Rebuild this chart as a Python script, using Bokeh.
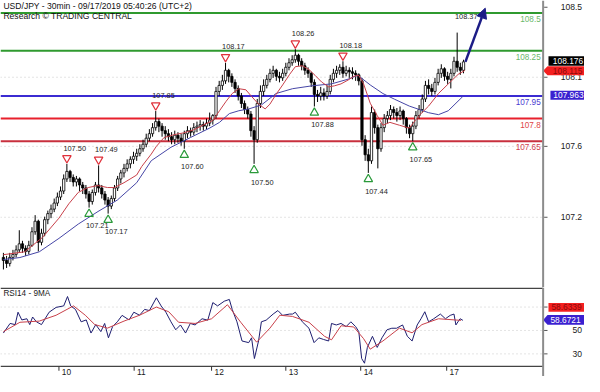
import numpy as np
from bokeh.plotting import figure
from bokeh.layouts import column
from bokeh.models import Range1d, Arrow, NormalHead, Span
from bokeh.core.properties import value
from bokeh.embed import file_html
from bokeh.resources import INLINE

# ---------------- data ----------------
opens = [106.88, 106.86, 106.84, 106.88, 106.90, 106.93, 106.97, 106.94, 106.92, 106.96,
         107.05, 107.12, 106.98, 107.04, 107.13, 107.17, 107.20, 107.24, 107.28, 107.32,
         107.40, 107.45, 107.41, 107.38, 107.40, 107.36, 107.34, 107.30, 107.25, 107.31,
         107.36, 107.34, 107.30, 107.26, 107.22, 107.27, 107.34, 107.40, 107.44, 107.47,
         107.50, 107.53, 107.55, 107.57, 107.60, 107.63, 107.67, 107.70, 107.74, 107.78,
         107.75, 107.72, 107.70, 107.68, 107.66, 107.69, 107.67, 107.65, 107.70, 107.72,
         107.71, 107.74, 107.75, 107.76, 107.75, 107.77, 107.79, 107.82, 107.98, 108.02,
         108.05, 108.12, 108.08, 108.04, 108.00, 107.95, 107.90, 107.86, 107.83, 107.72,
         107.66, 107.90, 107.98, 108.02, 108.06, 108.10, 108.12, 108.08, 108.07, 108.10,
         108.14, 108.17, 108.19, 108.22, 108.18, 108.15, 108.12, 108.10, 108.04, 107.96,
         107.95, 107.97, 107.95, 107.98, 108.06, 108.10, 108.12, 108.14, 108.10, 108.12,
         108.11, 108.10, 108.09, 108.05, 107.66, 107.56, 107.52, 107.84, 107.74, 107.60,
         107.74, 107.80, 107.82, 107.86, 107.84, 107.82, 107.85, 107.80, 107.74, 107.70,
         107.75, 107.82, 107.86, 107.93, 108.02, 108.00, 107.98, 108.04, 108.10, 108.13,
         108.08, 108.06, 108.10, 108.18, 108.14, 108.12]
highs = [106.91, 106.89, 106.91, 106.93, 106.96, 107.06, 106.99, 106.96, 106.99, 107.08,
         107.16, 107.13, 107.07, 107.15, 107.19, 107.23, 107.27, 107.31, 107.35, 107.43,
         107.50, 107.46, 107.43, 107.42, 107.41, 107.38, 107.36, 107.32, 107.33, 107.38,
         107.49, 107.36, 107.32, 107.28, 107.29, 107.36, 107.42, 107.46, 107.50, 107.53,
         107.55, 107.58, 107.60, 107.63, 107.66, 107.70, 107.73, 107.77, 107.85, 107.80,
         107.77, 107.75, 107.73, 107.71, 107.72, 107.71, 107.70, 107.72, 107.75, 107.74,
         107.77, 107.78, 107.79, 107.78, 107.80, 107.84, 107.83, 108.01, 108.05, 108.09,
         108.17, 108.13, 108.10, 108.06, 108.02, 107.97, 107.92, 107.88, 107.85, 107.75,
         107.93, 108.02, 108.06, 108.09, 108.13, 108.15, 108.13, 108.11, 108.13, 108.17,
         108.20, 108.22, 108.26, 108.23, 108.20, 108.17, 108.14, 108.11, 108.06, 107.99,
         108.01, 108.00, 108.02, 108.09, 108.13, 108.15, 108.16, 108.18, 108.15, 108.14,
         108.14, 108.12, 108.10, 108.07, 107.69, 107.60, 107.88, 107.86, 107.76, 107.77,
         107.83, 107.85, 107.89, 107.88, 107.87, 107.88, 107.86, 107.81, 107.76, 107.78,
         107.85, 107.89, 107.96, 108.05, 108.06, 108.03, 108.07, 108.13, 108.16, 108.14,
         108.11, 108.13, 108.21, 108.37, 108.17, 108.19]
lows = [106.80, 106.81, 106.82, 106.86, 106.88, 106.91, 106.91, 106.89, 106.90, 106.95,
        107.03, 106.92, 106.96, 107.02, 107.10, 107.14, 107.18, 107.22, 107.26, 107.30,
        107.38, 107.38, 107.35, 107.35, 107.32, 107.30, 107.27, 107.21, 107.23, 107.29,
        107.31, 107.27, 107.23, 107.17, 107.20, 107.25, 107.32, 107.37, 107.41, 107.45,
        107.47, 107.50, 107.52, 107.55, 107.58, 107.61, 107.65, 107.68, 107.72, 107.71,
        107.68, 107.66, 107.65, 107.63, 107.63, 107.64, 107.62, 107.60, 107.67, 107.68,
        107.69, 107.71, 107.72, 107.72, 107.73, 107.75, 107.76, 107.80, 107.95, 107.99,
        108.03, 108.04, 108.01, 107.97, 107.92, 107.87, 107.83, 107.80, 107.68, 107.50,
        107.64, 107.87, 107.95, 108.00, 108.04, 108.07, 108.05, 108.04, 108.05, 108.08,
        108.12, 108.15, 108.17, 108.15, 108.12, 108.09, 108.07, 108.01, 107.88, 107.91,
        107.92, 107.92, 107.93, 107.96, 108.04, 108.07, 108.09, 108.07, 108.08, 108.07,
        108.06, 108.05, 108.02, 107.62, 107.52, 107.44, 107.50, 107.70, 107.47, 107.58,
        107.71, 107.77, 107.79, 107.80, 107.78, 107.79, 107.76, 107.70, 107.67, 107.65,
        107.73, 107.80, 107.84, 107.91, 107.96, 107.95, 107.96, 108.02, 108.07, 108.05,
        108.03, 108.00, 108.08, 108.11, 108.09, 108.10]
closes = [106.86, 106.84, 106.88, 106.90, 106.93, 106.97, 106.94, 106.92, 106.96, 107.05,
          107.12, 106.98, 107.04, 107.13, 107.17, 107.20, 107.24, 107.28, 107.32, 107.40,
          107.45, 107.41, 107.38, 107.40, 107.36, 107.34, 107.30, 107.25, 107.31, 107.36,
          107.34, 107.30, 107.26, 107.22, 107.27, 107.34, 107.40, 107.44, 107.47, 107.50,
          107.53, 107.55, 107.57, 107.60, 107.63, 107.67, 107.70, 107.74, 107.78, 107.75,
          107.72, 107.70, 107.68, 107.66, 107.69, 107.67, 107.65, 107.70, 107.72, 107.71,
          107.74, 107.75, 107.76, 107.75, 107.77, 107.79, 107.82, 107.98, 108.02, 108.05,
          108.12, 108.08, 108.04, 108.00, 107.95, 107.90, 107.86, 107.83, 107.72, 107.66,
          107.90, 107.98, 108.02, 108.06, 108.10, 108.12, 108.08, 108.07, 108.10, 108.14,
          108.17, 108.19, 108.22, 108.18, 108.15, 108.12, 108.10, 108.04, 107.96, 107.95,
          107.97, 107.95, 107.98, 108.06, 108.10, 108.12, 108.14, 108.10, 108.12, 108.11,
          108.10, 108.09, 108.05, 107.66, 107.56, 107.52, 107.84, 107.74, 107.60, 107.74,
          107.80, 107.82, 107.86, 107.84, 107.82, 107.85, 107.80, 107.74, 107.70, 107.75,
          107.82, 107.86, 107.93, 108.02, 108.00, 107.98, 108.04, 108.10, 108.13, 108.08,
          108.06, 108.10, 108.18, 108.14, 108.12, 108.176]

ma_fast_x = [0, 6.7, 12.3, 17.5, 20.6, 23.6, 26.7, 29.8, 32.8, 35.0,
             38.0, 42.0, 43.6, 46.6, 48.2, 50.6, 53.7, 56.7, 59.8, 62.9,
             66.0, 68.1, 70.2, 72.1, 74.2, 76.4, 78.2, 80.4, 82.5, 84.0,
             85.9, 88.0, 90.2, 92.0, 94.2, 96.3, 98.2, 100.3, 102.5, 104.3,
             106.4, 108.6, 110.4, 112.0, 113.5, 115.6, 117.8, 119.6, 121.8, 124.8,
             127.9, 131.0, 134.0, 137.1, 140.2, 143.3, 145.4]
ma_fast = [106.898, 106.917, 107.012, 107.140, 107.235, 107.311, 107.343, 107.356, 107.343, 107.343,
           107.375, 107.426, 107.483, 107.565, 107.616, 107.674, 107.693, 107.705, 107.724, 107.756,
           107.788, 107.852, 107.915, 107.966, 107.998, 107.991, 107.947, 107.896, 107.864, 107.896,
           107.960, 108.023, 108.093, 108.144, 108.150, 108.125, 108.087, 108.042, 108.010, 108.017,
           108.030, 108.055, 108.080, 108.087, 108.030, 107.902, 107.820, 107.756, 107.775, 107.756,
           107.737, 107.820, 107.883, 107.966, 108.030, 108.093, 108.119]
ma_slow_x = [0, 5.2, 11.3, 17.5, 23.6, 29.8, 35.9, 42.0, 46.6, 52.8,
             58.9, 65.0, 68.1, 71.2, 74.2, 77.3, 81.3, 85.9, 91.1, 97.2,
             103.4, 108.6, 111.7, 115.6, 119.6, 123.3, 127.9, 134.0, 137.1, 140.2,
             144.8]
ma_slow = [106.866, 106.879, 106.917, 107.006, 107.101, 107.184, 107.260, 107.375, 107.521, 107.610,
           107.674, 107.737, 107.775, 107.833, 107.852, 107.864, 107.890, 107.966, 107.998, 108.017,
           108.030, 108.061, 108.087, 108.023, 107.966, 107.928, 107.883, 107.839, 107.826, 107.852,
           107.947]

rsi_x = [0.0, 2.1, 3.7, 4.6, 5.8, 7.4, 8.3, 9.2, 10.4, 12.0,
         14.4, 16.6, 19.0, 20.2, 21.2, 22.7, 24.5, 26.1, 27.6, 29.1,
         30.7, 31.9, 33.1, 34.4, 35.9, 37.4, 39.6, 41.1, 42.9, 44.5,
         46.0, 48.2, 49.7, 51.2, 52.8, 54.3, 55.8, 57.4, 58.9, 60.4,
         62.6, 64.4, 66.0, 67.5, 69.6, 71.2, 72.1, 73.6, 75.2, 77.3,
         78.2, 79.1, 80.4, 81.3, 82.8, 85.0, 86.5, 88.0, 90.2, 91.1,
         92.0, 94.2, 96.3, 97.9, 99.4, 100.9, 102.5, 103.4, 104.9, 106.4,
         108.0, 109.5, 111.0, 112.0, 112.9, 113.8, 114.7, 116.3, 117.8, 119.3,
         120.9, 122.4, 123.9, 125.8, 127.3, 128.8, 130.4, 131.6, 132.8, 134.0,
         135.6, 137.7, 139.3, 140.8, 142.0, 142.6, 143.9, 144.8]
rsi = [47.8, 56, 55, 65.6, 59, 60, 55, 61.5, 57.4, 55,
       65.6, 69.7, 71, 79, 71, 68, 57.4, 59, 47.8, 55,
       49, 56, 43.7, 53.3, 57.4, 62.9, 59, 65.6, 63, 68,
       67, 77.9, 71, 65.6, 57.4, 50.6, 54.7, 47.8, 56, 54.7,
       60, 58.8, 73.8, 71, 75, 76.5, 68, 57.4, 41, 39.6,
       43.7, 26, 41, 57.4, 58.8, 64, 67, 62.9, 64, 64,
       65.6, 57.4, 51.9, 39.6, 43.7, 42.3, 41, 56, 54.7, 56,
       53.3, 57.4, 53.3, 49, 26, 22, 35.5, 45, 35.5, 43.7,
       50.6, 51.9, 51.9, 54.7, 45, 41, 54.7, 60, 66, 57.4,
       60, 64, 60, 62.9, 64, 54.7, 60, 58.67]
rsi_ma_x = [0, 5.2, 11.3, 16.6, 22.1, 25.8, 28.8, 32.8, 38.0, 42.9,
            48.2, 52.1, 55.2, 60.4, 65.6, 70.6, 74.8, 79.8, 84.0, 87.1,
            91.1, 96.3, 101.2, 103.4, 106.4, 110.4, 113.5, 115.6, 119.6, 124.8,
            128.8, 131.9, 137.1, 144.2]
rsi_ma = [49, 57, 58, 63, 71, 63, 55, 52, 58, 63,
          70, 66, 57, 56, 60, 72, 57, 40, 52, 63,
          62, 57, 45, 42, 54, 53, 43, 34, 41, 52,
          48, 55, 60, 58.63]

levels = [108.5, 108.25, 107.95, 107.8, 107.65]
level_labels = ["108.5", "108.25", "107.95", "107.8", "107.65"]

pivot_high_idx = [20, 30, 48, 70, 92, 107]
pivot_low_idx = [27, 33, 57, 79, 98, 115, 129]
target_idx = [143]

price_ticks = [108.538, 108.074, 107.616, 107.146]
price_tick_labels = ["108.5", "108.1", "107.6", "107.2"]
rsi_ticks = [70, 50, 30]
rsi_tick_labels = ["70", "50", "30"]
day_ticks = [17.5, 41.2, 65.6, 89.0, 112.6, 139.7]
day_labels = ["10", "11", "12", "13", "14", "17"]

last_price = 108.176
prev_price = 108.115
mid_price = 107.963
rsi_ma_last = 58.6339
rsi_last = 58.6721

title_1 = "USD/JPY - 30min - 09/17/2019 05:40:26 (UTC+2)"
title_2 = "Research \u00a9 TRADING CENTRAL"
rsi_title = "RSI14 - 9MA"

# ---------------- layout helpers (reference pixel -> data) ----------------
FONT = value("Liberation Sans")
SX = 584 / 600
SY = 376 / 392
H_MAIN = 287
H_RSI = 376 - H_MAIN


def X(px):
    return (px - 3) / 3.26


def Y(py):
    return 108.5 - (py - 13) / 157.3


def R(py):
    return 50 + (344 - py) / 1.22


def fs(px):
    return value(f"{px * SX:.2f}px")


def txt(fig, x, y, s, size, color, align="left", baseline="middle"):
    fig.text(x=list(x), y=list(y), text=list(s), text_font=FONT, text_font_size=fs(size),
             text_color=color, text_align=align, text_baseline=baseline)


AXIS_X = X(557.5)
PLOT_END = X(557)

# ---------------- main price panel ----------------
p = figure(width=584, height=H_MAIN, output_backend="svg", toolbar_location=None,
           x_range=Range1d(X(0), X(600)), y_range=Range1d(Y(H_MAIN / SY), Y(0)),
           x_axis_location=None, y_axis_location=None, min_border=0,
           outline_line_color=None, background_fill_color="white", border_fill_color="white")
p.xgrid.visible = False
p.ygrid.visible = False

# dotted grid
gy = price_ticks[1:]
p.segment(x0=[X(0)] * len(gy), x1=[PLOT_END] * len(gy), y0=gy, y1=gy,
          line_color="#c8c8c8", line_dash="1 3", line_width=1)

# key levels
level_colors = ["#2f9a2f", "#2f9a2f", "#3b2bd2", "#e8202c", "#c8303e"]
level_text_colors = ["#6ab86a", "#6ab86a", "#4a3ad0", "#e04444", "#d0404e"]
p.segment(x0=[X(0)] * len(levels), x1=[PLOT_END] * len(levels), y0=levels, y1=levels,
          line_color=level_colors, line_width=2)
for lv, lab, col in zip(levels, level_labels, level_text_colors):
    txt(p, [X(555)], [lv - 6.5 / 157.3], [lab], 8.4, col, align="right")

# candles
o = np.array(opens)
h = np.array(highs)
lo = np.array(lows)
c = np.array(closes)
idx = np.arange(len(c))
up = c >= o
p.segment(x0=idx, x1=idx, y0=lo, y1=h, line_color="black", line_width=1)
p.vbar(x=idx, width=0.72, top=np.maximum(o, c), bottom=np.minimum(o, c),
       fill_color=["white" if u else "black" for u in up], line_color="black", line_width=0.8)

# moving averages
p.line(ma_slow_x, ma_slow, line_color="#4646a6", line_width=1)
p.line(ma_fast_x, ma_fast, line_color="#c8404a", line_width=1)

# pivot markers
dy = 1 / 157.3
hx = np.array(pivot_high_idx, dtype=float)
hv = h[pivot_high_idx]
p.scatter(hx, hv + 6 * dy, marker="inverted_triangle", size=8.5, fill_color=None,
          line_color="#e0303a", line_width=1.2)
txt(p, hx - 1.1, hv + 16.5 * dy, [f"{v:.2f}" for v in hv], 7.6, "#262626")
lx = np.array(pivot_low_idx, dtype=float)
lv_ = lo[pivot_low_idx]
p.scatter(lx, lv_ - 6.5 * dy, marker="triangle", size=8.5, fill_color=None,
          line_color="#2a9a3a", line_width=1.2)
txt(p, lx - 1.0, lv_ - 19 * dy, [f"{v:.2f}" for v in lv_], 7.6, "#262626")
tx = np.array(target_idx, dtype=float)
tv = h[target_idx]
txt(p, tx - 0.7, tv + 16.5 * dy, [f"{v:.2f}" for v in tv], 7.6, "#262626")

# forecast arrow
p.add_layout(Arrow(end=NormalHead(size=10, fill_color="#1c1c86", line_color="#1c1c86"),
                   x_start=idx[-1] + 0.6, y_start=c[-1], x_end=X(498), y_end=Y(8),
                   line_color="#1c1c86", line_width=2.5))

# title
txt(p, [X(3)], [Y(6)], [title_1], 8.8, "#111111")
txt(p, [X(3)], [Y(16.5)], [title_2], 8.8, "#111111")

# right axis
p.add_layout(Span(location=AXIS_X, dimension="height", line_color="#8c8c8c", line_width=2))
p.segment(x0=[X(558.5)] * len(price_ticks), x1=[X(562)] * len(price_ticks),
          y0=price_ticks, y1=price_ticks, line_color="#555555", line_width=1)
txt(p, [X(597.5)] * len(price_ticks), price_ticks, price_tick_labels, 8.8, "#1a1a1a", align="right")

# price boxes
p.quad(left=[X(563)], right=[X(602)], top=[Y(58)], bottom=[Y(68)], fill_color="black", line_color=None)
txt(p, [X(567.5)], [Y(63)], [f"{last_price:.3f}"], 8.6, "white")
p.patch(x=[X(557.5), X(562), X(602), X(602), X(562)], y=[Y(73.3), Y(68.5), Y(68.5), Y(78), Y(78)],
        fill_color="#f42020", line_color=None)
txt(p, [X(567.5)], [Y(73.3)], [f"{prev_price:.3f}"], 8.6, "#8a0a0a")
p.quad(left=[X(565)], right=[X(602)], top=[Y(94)], bottom=[Y(103.5)], fill_color="#3a20d0", line_color=None)
txt(p, [X(568)], [Y(98.8)], [f"{mid_price:.3f}"], 8.6, "white")

# ---------------- RSI panel ----------------
r = figure(width=584, height=H_RSI, output_backend="svg", toolbar_location=None,
           x_range=p.x_range, y_range=Range1d(R(392), R(H_MAIN / SY)),
           x_axis_location=None, y_axis_location=None, min_border=0,
           outline_line_color=None, background_fill_color="white", border_fill_color="white")
r.xgrid.visible = False
r.ygrid.visible = False

r.segment(x0=[X(0)] * len(rsi_ticks), x1=[PLOT_END] * len(rsi_ticks), y0=rsi_ticks, y1=rsi_ticks,
          line_color="#c8c8c8", line_dash="1 3", line_width=1)
r.segment(x0=[X(0), X(0)], x1=[AXIS_X, AXIS_X], y0=[R(300), R(381.5)], y1=[R(300), R(381.5)],
          line_color="#444444", line_width=1.3)

r.line(rsi_x, rsi, line_color="#1e1e70", line_width=1)
r.line(rsi_ma_x, rsi_ma, line_color="#c8404a", line_width=1)

txt(r, [X(3)], [R(305)], [rsi_title], 8.4, "#1a1a1a")

r.add_layout(Span(location=AXIS_X, dimension="height", line_color="#8c8c8c", line_width=2))
r.segment(x0=[X(558.5)] * len(rsi_ticks), x1=[X(562)] * len(rsi_ticks), y0=rsi_ticks, y1=rsi_ticks,
          line_color="#555555", line_width=1)
txt(r, [X(597.5)] * len(rsi_ticks), rsi_ticks, rsi_tick_labels, 8.8, "#1a1a1a", align="right")

r.quad(left=[X(563)], right=[X(602)], top=[R(315.5)], bottom=[R(324.5)], fill_color="#f42020", line_color=None)
txt(r, [X(566)], [R(320)], [f"{rsi_ma_last:.4f}"], 8.6, "#8a0a0a")
r.patch(x=[X(557.5), X(562), X(602), X(602), X(562)], y=[R(333), R(328), R(328), R(338), R(338)],
        fill_color="#3a20d0", line_color=None)
txt(r, [X(565)], [R(333)], [f"{rsi_last:.4f}"], 8.6, "white")

# day ticks
nd = len(day_ticks)
r.segment(x0=day_ticks, x1=day_ticks, y0=[R(381.5)] * nd, y1=[R(386)] * nd, line_color="#333333", line_width=1)
txt(r, [t + X(3) - X(0) for t in day_ticks], [R(387)] * nd, day_labels, 8.6, "#1a1a1a")

layout = column(p, r, spacing=0)
open("out.html", "w").write(file_html(layout, INLINE))
